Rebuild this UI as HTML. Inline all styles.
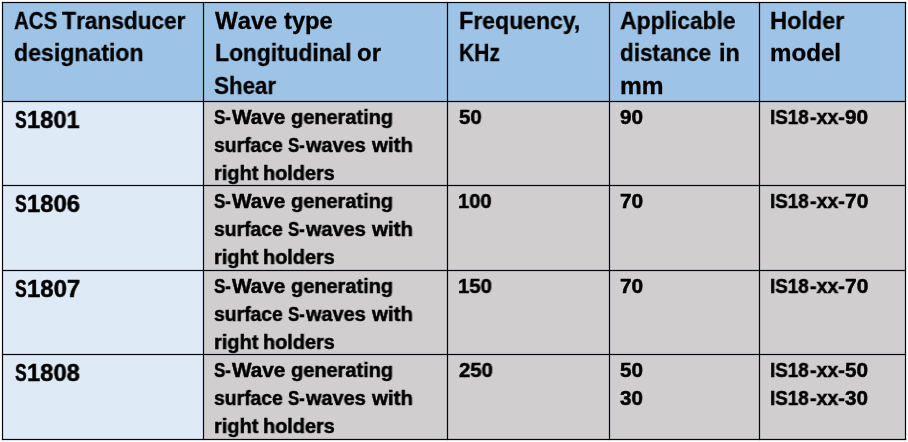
<!DOCTYPE html><html><head><meta charset="utf-8"><title>Transducer table</title><style>
html,body{margin:0;padding:0;background:#fff;}
body{width:908px;height:442px;position:relative;overflow:hidden;font-family:"Liberation Sans",sans-serif;font-weight:bold;color:#000;}
.bg{position:absolute;}
.t{position:absolute;white-space:nowrap;line-height:30px;height:30px;transform-origin:0 0;display:block;will-change:transform;-webkit-text-stroke:0.30px #000;}
.t b{line-height:0;font-weight:bold;}
.s{-webkit-text-stroke-width:0.50px;}
svg{position:absolute;left:0;top:0;}
</style></head><body>
<div class="bg" style="left:2px;top:2px;width:904px;height:99px;background:#9dc3e6"></div>
<div class="bg" style="left:2px;top:101px;width:201px;height:339px;background:#deeaf6"></div>
<div class="bg" style="left:203px;top:101px;width:703px;height:339px;background:#d0cece"></div>
<svg width="908" height="442" viewBox="0 0 908 442">
<rect x="1.90" y="1.90" width="1.20" height="438.20" fill="#05050f"/>
<rect x="202.90" y="1.90" width="1.20" height="438.20" fill="#05050f"/>
<rect x="446.90" y="1.90" width="1.20" height="438.20" fill="#05050f"/>
<rect x="608.90" y="1.90" width="1.20" height="438.20" fill="#05050f"/>
<rect x="758.90" y="1.90" width="1.20" height="438.20" fill="#05050f"/>
<rect x="904.90" y="1.90" width="1.20" height="438.20" fill="#05050f"/>
<rect x="1.90" y="1.90" width="904.20" height="1.20" fill="#05050f"/>
<rect x="1.90" y="100.90" width="904.20" height="1.20" fill="#05050f"/>
<rect x="1.90" y="184.90" width="904.20" height="1.20" fill="#05050f"/>
<rect x="1.90" y="269.90" width="904.20" height="1.20" fill="#05050f"/>
<rect x="1.90" y="353.90" width="904.20" height="1.20" fill="#05050f"/>
<rect x="1.90" y="438.90" width="904.20" height="1.20" fill="#05050f"/>
</svg>
<span class="t" style="left:13.92px;top:6px;font-size:24.00px;transform:scaleX(0.8536)">ACS</span>
<span class="t" style="left:62.19px;top:6px;font-size:23.60px;transform:scaleX(0.9584)"><b style="font-size:24.00px">T</b>ransducer</span>
<span class="t" style="left:13.90px;top:38px;font-size:23.60px;transform:scaleX(0.9787)">designation</span>
<span class="t" style="left:214.63px;top:6px;font-size:23.60px;transform:scaleX(1.0040)"><b style="font-size:24.00px">W</b>ave</span>
<span class="t" style="left:283.61px;top:6px;font-size:23.60px;transform:scaleX(1.0058)">type</span>
<span class="t" style="left:215.00px;top:38px;font-size:23.60px;transform:scaleX(0.9624)"><b style="font-size:24.00px">L</b>ongitudinal</span>
<span class="t" style="left:356.71px;top:38px;font-size:23.60px;transform:scaleX(1.0170)">or</span>
<span class="t" style="left:213.99px;top:71px;font-size:23.60px;transform:scaleX(0.9407)"><b style="font-size:24.00px">S</b>hear</span>
<span class="t" style="left:458.68px;top:6px;font-size:23.60px;transform:scaleX(0.9753)"><b style="font-size:24.00px">F</b>requency,</span>
<span class="t" style="left:458.82px;top:38px;font-size:23.60px;transform:scaleX(0.8779)"><b style="font-size:24.00px">KH</b>z</span>
<span class="t" style="left:620.07px;top:6px;font-size:23.60px;transform:scaleX(0.9661)"><b style="font-size:24.00px">A</b>pplicable</span>
<span class="t" style="left:620.47px;top:38px;font-size:23.60px;transform:scaleX(0.9522)">distance</span>
<span class="t" style="left:718.52px;top:38px;font-size:23.60px;transform:scaleX(0.9913)">in</span>
<span class="t" style="left:619.79px;top:71px;font-size:23.60px;transform:scaleX(1.0382)">mm</span>
<span class="t" style="left:769.86px;top:6px;font-size:23.60px;transform:scaleX(0.9909)"><b style="font-size:24.00px">H</b>older</span>
<span class="t" style="left:769.56px;top:38px;font-size:23.60px;transform:scaleX(1.0217)">model</span>
<span class="t s" style="left:14.58px;top:105px;font-size:24.00px;transform:scaleX(0.7322)">S</span>
<span class="t s" style="left:27.05px;top:105px;font-size:24.00px;transform:scaleX(0.9882)">1801</span>
<span class="t s" style="left:214.12px;top:102px;font-size:20.70px;transform:scaleX(0.8197)">S-</span>
<span class="t s" style="left:232.03px;top:102px;font-size:20.70px;transform:scaleX(1.0009)">Wave</span>
<span class="t s" style="left:290.67px;top:102px;font-size:20.70px;transform:scaleX(0.9656)">generating</span>
<span class="t s" style="left:214.05px;top:130px;font-size:20.70px;transform:scaleX(0.9357)">surface</span>
<span class="t s" style="left:288.42px;top:130px;font-size:20.70px;transform:scaleX(0.8147)">S-</span>
<span class="t s" style="left:305.60px;top:130px;font-size:20.70px;transform:scaleX(0.9638)">waves</span>
<span class="t s" style="left:372.11px;top:130px;font-size:20.70px;transform:scaleX(0.9889)">with</span>
<span class="t s" style="left:214.32px;top:158px;font-size:20.70px;transform:scaleX(0.9676)">right</span>
<span class="t s" style="left:262.85px;top:158px;font-size:20.70px;transform:scaleX(0.9597)">holders</span>
<span class="t s" style="left:458.52px;top:102px;font-size:20.70px;transform:scaleX(0.9850)">50</span>
<span class="t s" style="left:620.03px;top:102px;font-size:20.70px;transform:scaleX(1.0023)">90</span>
<span class="t s" style="left:770.17px;top:102px;font-size:20.70px;transform:scaleX(0.9113)">IS18</span>
<span class="t s" style="left:810.17px;top:102px;font-size:20.70px;transform:scaleX(0.9422)">-xx-</span>
<span class="t s" style="left:845.03px;top:102px;font-size:20.70px;transform:scaleX(1.0069)">90</span>
<span class="t s" style="left:14.58px;top:189px;font-size:24.00px;transform:scaleX(0.7322)">S</span>
<span class="t s" style="left:27.05px;top:189px;font-size:24.00px;transform:scaleX(0.9920)">1806</span>
<span class="t s" style="left:214.12px;top:186px;font-size:20.70px;transform:scaleX(0.8197)">S-</span>
<span class="t s" style="left:232.03px;top:186px;font-size:20.70px;transform:scaleX(1.0009)">Wave</span>
<span class="t s" style="left:290.67px;top:186px;font-size:20.70px;transform:scaleX(0.9656)">generating</span>
<span class="t s" style="left:214.05px;top:214px;font-size:20.70px;transform:scaleX(0.9357)">surface</span>
<span class="t s" style="left:288.42px;top:214px;font-size:20.70px;transform:scaleX(0.8147)">S-</span>
<span class="t s" style="left:305.60px;top:214px;font-size:20.70px;transform:scaleX(0.9638)">waves</span>
<span class="t s" style="left:372.11px;top:214px;font-size:20.70px;transform:scaleX(0.9889)">with</span>
<span class="t s" style="left:214.32px;top:242px;font-size:20.70px;transform:scaleX(0.9676)">right</span>
<span class="t s" style="left:262.85px;top:242px;font-size:20.70px;transform:scaleX(0.9597)">holders</span>
<span class="t s" style="left:458.47px;top:186px;font-size:20.70px;transform:scaleX(0.9733)">100</span>
<span class="t s" style="left:619.85px;top:186px;font-size:20.70px;transform:scaleX(1.0102)">70</span>
<span class="t s" style="left:770.17px;top:186px;font-size:20.70px;transform:scaleX(0.9113)">IS18</span>
<span class="t s" style="left:810.17px;top:186px;font-size:20.70px;transform:scaleX(0.9422)">-xx-</span>
<span class="t s" style="left:844.85px;top:186px;font-size:20.70px;transform:scaleX(1.0148)">70</span>
<span class="t s" style="left:14.58px;top:274px;font-size:24.00px;transform:scaleX(0.7322)">S</span>
<span class="t s" style="left:27.04px;top:274px;font-size:24.00px;transform:scaleX(0.9956)">1807</span>
<span class="t s" style="left:214.12px;top:271px;font-size:20.70px;transform:scaleX(0.8197)">S-</span>
<span class="t s" style="left:232.03px;top:271px;font-size:20.70px;transform:scaleX(1.0009)">Wave</span>
<span class="t s" style="left:290.67px;top:271px;font-size:20.70px;transform:scaleX(0.9656)">generating</span>
<span class="t s" style="left:214.05px;top:299px;font-size:20.70px;transform:scaleX(0.9357)">surface</span>
<span class="t s" style="left:288.42px;top:299px;font-size:20.70px;transform:scaleX(0.8147)">S-</span>
<span class="t s" style="left:305.60px;top:299px;font-size:20.70px;transform:scaleX(0.9638)">waves</span>
<span class="t s" style="left:372.11px;top:299px;font-size:20.70px;transform:scaleX(0.9889)">with</span>
<span class="t s" style="left:214.32px;top:327px;font-size:20.70px;transform:scaleX(0.9676)">right</span>
<span class="t s" style="left:262.85px;top:327px;font-size:20.70px;transform:scaleX(0.9597)">holders</span>
<span class="t s" style="left:458.46px;top:271px;font-size:20.70px;transform:scaleX(0.9824)">150</span>
<span class="t s" style="left:619.85px;top:271px;font-size:20.70px;transform:scaleX(1.0102)">70</span>
<span class="t s" style="left:770.17px;top:271px;font-size:20.70px;transform:scaleX(0.9113)">IS18</span>
<span class="t s" style="left:810.17px;top:271px;font-size:20.70px;transform:scaleX(0.9422)">-xx-</span>
<span class="t s" style="left:844.85px;top:271px;font-size:20.70px;transform:scaleX(1.0148)">70</span>
<span class="t s" style="left:14.58px;top:358px;font-size:24.00px;transform:scaleX(0.7322)">S</span>
<span class="t s" style="left:27.05px;top:358px;font-size:24.00px;transform:scaleX(0.9895)">1808</span>
<span class="t s" style="left:214.12px;top:355px;font-size:20.70px;transform:scaleX(0.8197)">S-</span>
<span class="t s" style="left:232.03px;top:355px;font-size:20.70px;transform:scaleX(1.0009)">Wave</span>
<span class="t s" style="left:290.67px;top:355px;font-size:20.70px;transform:scaleX(0.9656)">generating</span>
<span class="t s" style="left:214.05px;top:383px;font-size:20.70px;transform:scaleX(0.9357)">surface</span>
<span class="t s" style="left:288.42px;top:383px;font-size:20.70px;transform:scaleX(0.8147)">S-</span>
<span class="t s" style="left:305.60px;top:383px;font-size:20.70px;transform:scaleX(0.9638)">waves</span>
<span class="t s" style="left:372.11px;top:383px;font-size:20.70px;transform:scaleX(0.9889)">with</span>
<span class="t s" style="left:214.32px;top:411px;font-size:20.70px;transform:scaleX(0.9676)">right</span>
<span class="t s" style="left:262.85px;top:411px;font-size:20.70px;transform:scaleX(0.9597)">holders</span>
<span class="t s" style="left:459.04px;top:355px;font-size:20.70px;transform:scaleX(0.9801)">250</span>
<span class="t s" style="left:620.11px;top:355px;font-size:20.70px;transform:scaleX(0.9986)">50</span>
<span class="t s" style="left:620.28px;top:383px;font-size:20.70px;transform:scaleX(0.9914)">30</span>
<span class="t s" style="left:770.17px;top:355px;font-size:20.70px;transform:scaleX(0.9113)">IS18</span>
<span class="t s" style="left:810.17px;top:355px;font-size:20.70px;transform:scaleX(0.9422)">-xx-</span>
<span class="t s" style="left:845.11px;top:355px;font-size:20.70px;transform:scaleX(1.0032)">50</span>
<span class="t s" style="left:770.17px;top:383px;font-size:20.70px;transform:scaleX(0.9113)">IS18</span>
<span class="t s" style="left:810.17px;top:383px;font-size:20.70px;transform:scaleX(0.9422)">-xx-</span>
<span class="t s" style="left:845.28px;top:383px;font-size:20.70px;transform:scaleX(0.9959)">30</span>
</body></html>
